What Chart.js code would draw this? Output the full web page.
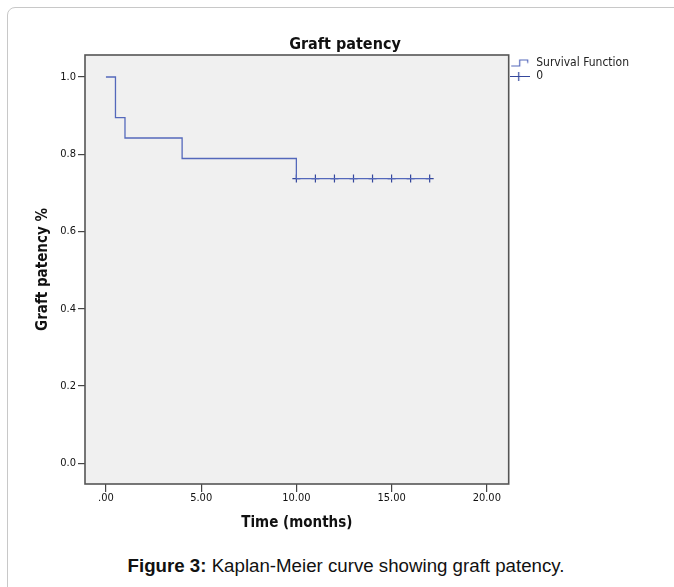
<!DOCTYPE html>
<html><head><meta charset="utf-8">
<script src="https://cdn.jsdelivr.net/npm/chart.js@4.4.1/dist/chart.umd.min.js"></script>
<style>
html,body{margin:0;padding:0;background:#fff;width:674px;height:587px;overflow:hidden;}
#card{position:absolute;left:7px;top:7px;width:720px;height:640px;border:1px solid #c8c8c8;border-radius:8px;}
#wrap{position:absolute;left:0;top:0;width:674px;height:540px;}
#caption{position:absolute;left:0;width:692px;top:555px;text-align:center;font:18.7px "Liberation Sans",Arial,sans-serif;color:#111;line-height:22px;}
</style></head>
<body>
<div id="card"></div>
<div id="wrap"><canvas id="c" width="674" height="540"></canvas></div>
<div id="caption"><b>Figure 3:</b> Kaplan-Meier curve showing graft patency.</div>
<script>
// ---- data ----
const timeMonths = [0, 0.5, 1, 4, 10, 17];
const survival = [1.0, 0.895, 0.842, 0.789, 0.737, 0.737];
const censoredTimes = [10, 11, 12, 13, 14, 15, 16, 17];
const censoredSurvival = [0.737, 0.737, 0.737, 0.737, 0.737, 0.737, 0.737, 0.737];
const xTickValues = [0, 5, 10, 15, 20];
const xTickLabels = ['.00', '5.00', '10.00', '15.00', '20.00'];
const yTickValues = [0, 0.2, 0.4, 0.6, 0.8, 1.0];
const yTickLabels = ['0.0', '0.2', '0.4', '0.6', '0.8', '1.0'];
const seriesNames = ['Survival Function', '0'];

const F = '"DejaVu Sans Condensed","DejaVu Sans",sans-serif';
const LINE = '#5468bb';
const MARK = '#34479c';

function stepIcon(color){
  const c=document.createElement('canvas'); c.width=20; c.height=10;
  const g=c.getContext('2d'); g.strokeStyle=color; g.lineWidth=1.2;
  g.beginPath(); g.moveTo(1,8.5); g.lineTo(9.5,8.5); g.lineTo(9.5,2.5); g.lineTo(17.5,2.5); g.lineTo(17.5,5.5); g.stroke();
  return c;
}
function crossIcon(color){
  const c=document.createElement('canvas'); c.width=20; c.height=10;
  const g=c.getContext('2d'); g.strokeStyle=color; g.lineWidth=1.2;
  g.beginPath(); g.moveTo(0,5.5); g.lineTo(20,5.5); g.moveTo(8.5,1); g.lineTo(8.5,10); g.stroke();
  return c;
}

const plotFrame = {
  id:'plotFrame',
  beforeDraw(chart){
    const {ctx, chartArea:a} = chart;
    ctx.save(); ctx.fillStyle='#f0f0f0'; ctx.fillRect(a.left,a.top,a.right-a.left,a.bottom-a.top); ctx.restore();
  },
  beforeDatasetsDraw(chart){
    const {ctx, chartArea:a} = chart;
    ctx.save(); ctx.strokeStyle='#555'; ctx.lineWidth=1.6;
    ctx.strokeRect(a.left,a.top,a.right-a.left,a.bottom-a.top); ctx.restore();
  }
};
const titleShift = {
  id:'titleShift',
  afterLayout(chart){
    const t = chart.titleBlock; if(!t) return;
    const d = 345 - (t.left + t.right)/2; t.left += d; t.right += d;
  }
};

new Chart(document.getElementById('c'), {
  type:'scatter',
  data:{
    datasets:[
      { label: seriesNames[0], data: timeMonths.map((t,i)=>({x:t,y:survival[i]})),
        showLine:true, stepped:true, borderColor:LINE, backgroundColor:LINE, borderWidth:1.3, pointRadius:0, fill:false },
      { label: seriesNames[1], data: censoredTimes.map((t,i)=>({x:t,y:censoredSurvival[i]})),
        showLine:false, pointStyle:'cross', pointRadius:4, borderColor:MARK, backgroundColor:MARK, borderWidth:1.2 }
    ]
  },
  plugins:[plotFrame, titleShift],
  options:{
    responsive:false, animation:false, events:[],
    layout:{padding:{left:28, right:35, top:20, bottom:0}},
    plugins:{
      title:{display:true, text:'Graft patency', color:'#111', font:{family:F, size:16, weight:'bold'}, padding:{top:15, bottom:0.8}},
      legend:{display:true, position:'right', align:'start', fullSize:false,
        labels:{usePointStyle:true, pointStyleWidth:20, padding:1.5, color:'#222', font:{family:F, size:12, lineHeight:0.92},
          generateLabels(chart){
            const items = Chart.defaults.plugins.legend.labels.generateLabels(chart);
            items[0].pointStyle = stepIcon(LINE);
            items[1].pointStyle = crossIcon(MARK);
            return items;
          }}},
      tooltip:{enabled:false}
    },
    scales:{
      x:{type:'linear', min:-1.1, max:21.15,
        afterBuildTicks(s){ s.ticks = xTickValues.map(v=>({value:v})); },
        afterFit(s){ s.height = 56; },
        ticks:{font:{family:F, size:11}, color:'#111', padding:0, maxRotation:0, autoSkip:false,
          callback(v){ const i = xTickValues.indexOf(v); return i>=0 ? xTickLabels[i] : ''; }},
        grid:{drawOnChartArea:false, drawTicks:true, tickLength:8, color:'#444', lineWidth:1.2},
        border:{display:false},
        title:{display:true, text:'Time (months)', color:'#111', font:{family:F, size:15, weight:'bold'}, padding:{top:0, bottom:8}}
      },
      y:{type:'linear', min:-0.054, max:1.057,
        afterBuildTicks(s){ s.ticks = yTickValues.map(v=>({value:v})); },
        afterFit(s){ s.width = 57; },
        ticks:{font:{family:F, size:11}, color:'#111', padding:2, autoSkip:false,
          callback(v){ const i = yTickValues.findIndex(x=>Math.abs(x-v)<1e-9); return i>=0 ? yTickLabels[i] : ''; }},
        grid:{drawOnChartArea:false, drawTicks:true, tickLength:7, color:'#444', lineWidth:1.2},
        border:{display:false},
        title:{display:true, text:'Graft patency %', color:'#111', font:{family:F, size:15, weight:'bold'}, padding:{top:6, bottom:0}}
      }
    }
  }
});
</script>
</body></html>
